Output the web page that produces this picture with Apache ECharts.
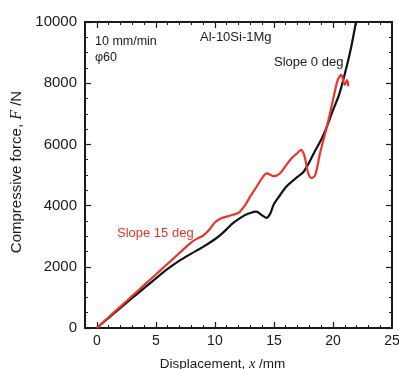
<!DOCTYPE html>
<html>
<head>
<meta charset="utf-8">
<script src="https://cdn.jsdelivr.net/npm/echarts@6/dist/echarts.min.js"></script>
<style>
  html, body { margin: 0; padding: 0; background: #fff; }
  #chart { width: 399px; height: 369px; }
</style>
</head>
<body>
<div id="chart"></div>
<script>
// Slope 0 deg (black)
const slope0X = [0, 1, 2, 3, 4, 5, 6, 7, 8, 9, 10, 10.5, 11, 11.5, 12, 12.5, 13, 13.5, 14, 14.4, 14.7, 15, 15.5, 16, 16.5, 17, 17.5, 18, 18.5, 19, 19.5, 20, 20.5, 21, 21.5, 21.95];
const slope0F = [0, 330, 660, 980, 1300, 1620, 1930, 2200, 2430, 2650, 2900, 3050, 3230, 3420, 3560, 3680, 3760, 3800, 3680, 3600, 3750, 4050, 4330, 4600, 4780, 4940, 5100, 5420, 5800, 6150, 6600, 7120, 7600, 8300, 9100, 10000];

// Slope 15 deg (red)
const slope15X = [0, 1, 2, 3, 4, 5, 6, 7, 8, 8.5, 9, 9.5, 10, 10.5, 11, 11.5, 12, 12.5, 13, 13.5, 14, 14.4, 15, 15.5, 16, 16.5, 17, 17.3, 17.6, 17.9, 18.2, 18.5, 18.9, 19.5, 20, 20.4, 20.7, 21.0, 21.2, 21.3];
const slope15F = [0, 350, 700, 1050, 1400, 1750, 2100, 2450, 2800, 2920, 3020, 3200, 3450, 3580, 3640, 3700, 3760, 3980, 4300, 4600, 4900, 5050, 4960, 5050, 5300, 5550, 5720, 5820, 5600, 5060, 4900, 5000, 5700, 6600, 7450, 8100, 8270, 7950, 8100, 7900];

// tick labels
const xTicks = [0, 5, 10, 15, 20, 25];
const yTicks = [0, 2000, 4000, 6000, 8000, 10000];

const pairs = (xs, ys) => xs.map((x, i) => [x, ys[i]]);

const font = '"Liberation Sans", Arial, sans-serif';
const ink = '#1a1a1a';

const lineStyle = { color: ink, width: 2 };
const tickStyle = { show: true, inside: true, length: 6, lineStyle: { color: ink, width: 1.2 } };
const minorStyle = { show: true, length: 3, lineStyle: { color: ink, width: 1 } };
const italic = { fontStyle: 'italic', fontFamily: '"Liberation Serif", serif', color: ink };

const chart = echarts.init(document.getElementById('chart'));
chart.setOption({
  animation: false,
  grid: { left: 85, top: 22, right: 7, bottom: 41, outerBoundsMode: 'none', containLabel: false },
  xAxis: [
    {
      type: 'value', min: -1, max: 25,
      axisLine: { onZero: false, lineStyle },
      axisTick: { ...tickStyle, customValues: xTicks.slice(0, -1) },
      minorTick: { ...minorStyle, splitNumber: 5 },
      splitLine: { show: false },
      axisLabel: { customValues: xTicks, color: ink, fontSize: 14, fontFamily: font, margin: 6 },
      name: 'Displacement, {i|x} /mm',
      nameLocation: 'middle', nameGap: 29,
      nameTextStyle: {
        color: ink, fontSize: 13.5, fontFamily: font, padding: [0, 32, 0, 0],
        rich: { i: { ...italic, fontSize: 14.5 } }
      }
    },
    {
      type: 'value', min: -1, max: 25, position: 'top',
      axisLine: { show: true, onZero: false, lineStyle },
      axisTick: { ...tickStyle, customValues: xTicks.slice(0, -1) },
      minorTick: { ...minorStyle, splitNumber: 5 },
      splitLine: { show: false },
      axisLabel: { show: false }
    }
  ],
  yAxis: [
    {
      type: 'value', min: 0, max: 10000, interval: 2000,
      axisLine: { show: true, onZero: false, lineStyle },
      axisTick: { ...tickStyle, customValues: yTicks },
      minorTick: { ...minorStyle, splitNumber: 4 },
      splitLine: { show: false },
      axisLabel: { customValues: yTicks, color: ink, fontSize: 15, fontFamily: font, margin: 8, formatter: (v) => String(v) },
      name: 'Compressive force, {i|F} /N',
      nameLocation: 'middle', nameGap: 46,
      nameTextStyle: {
        color: ink, fontSize: 15, fontFamily: font, padding: [0, 0, 0, 6],
        rich: { i: { ...italic, fontSize: 16 } }
      }
    },
    {
      type: 'value', min: 0, max: 10000, interval: 2000, position: 'right',
      axisLine: { show: true, onZero: false, lineStyle },
      axisTick: tickStyle,
      minorTick: { ...minorStyle, splitNumber: 4 },
      splitLine: { show: false },
      axisLabel: { show: false }
    }
  ],
  graphic: [
    { type: 'text', x: 95, y: 42, style: { text: '10 mm/min', fill: ink, font: '12.5px ' + font, verticalAlign: 'middle' } },
    { type: 'text', x: 95, y: 58, style: { text: 'φ60', fill: ink, font: '12.5px ' + font, verticalAlign: 'middle' } },
    { type: 'text', x: 200, y: 37, style: { text: 'Al-10Si-1Mg', fill: ink, font: '13px ' + font, verticalAlign: 'middle' } },
    { type: 'text', x: 274, y: 62, style: { text: 'Slope 0 deg', fill: ink, font: '13px ' + font, verticalAlign: 'middle' } },
    { type: 'text', x: 117, y: 233, style: { text: 'Slope 15 deg', fill: '#e8352c', font: '13px ' + font, verticalAlign: 'middle' } }
  ],
  series: [
    {
      name: 'Slope 0 deg', type: 'line', data: pairs(slope0X, slope0F),
      showSymbol: false, smooth: 0.3, clip: true,
      lineStyle: { color: '#111', width: 2.2 }
    },
    {
      name: 'Slope 15 deg', type: 'line', data: pairs(slope15X, slope15F),
      showSymbol: false, smooth: 0.3, clip: true,
      lineStyle: { color: '#e8352c', width: 2.2 }
    }
  ]
});
</script>
</body>
</html>
